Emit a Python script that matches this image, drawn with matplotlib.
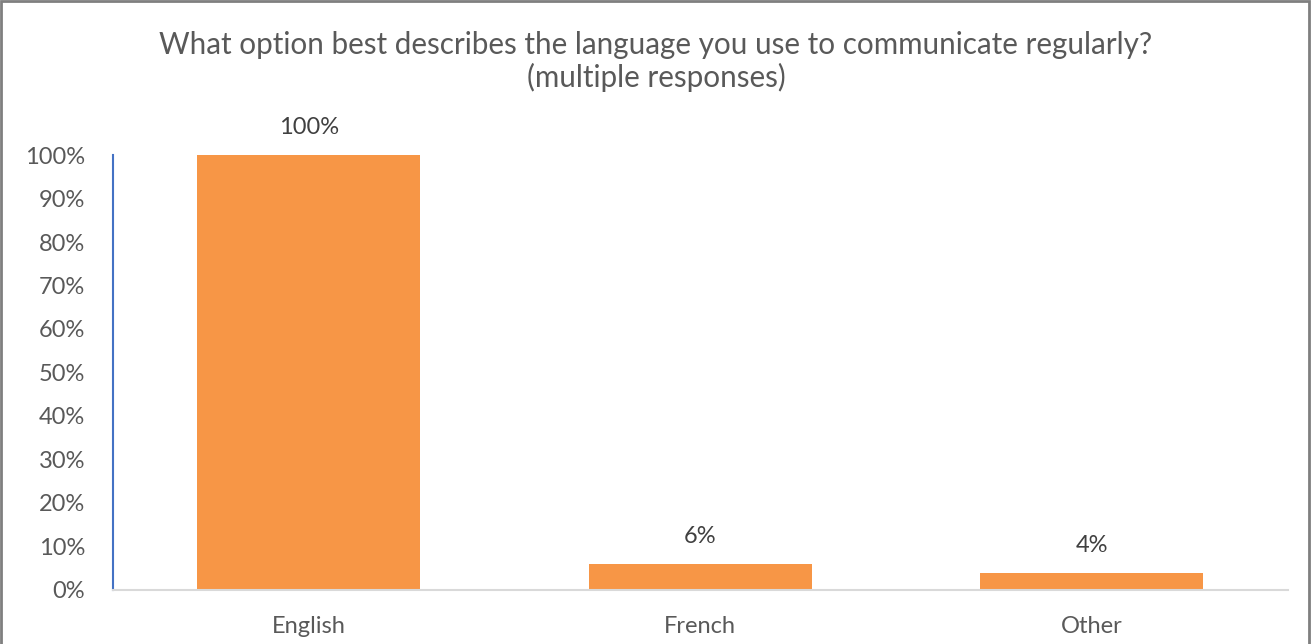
import matplotlib.pyplot as plt
from matplotlib.patches import Rectangle

# Survey responses (share of respondents)
languages = ["English", "French", "Other"]
shares = [1.00, 0.06, 0.04]
y_ticks = [0.0, 0.1, 0.2, 0.3, 0.4, 0.5, 0.6, 0.7, 0.8, 0.9, 1.0]

plt.rcParams['font.family'] = ['Lato', 'DejaVu Sans']
text_grey = '#595959'
bar_orange = '#F79646'

fig = plt.figure(figsize=(13.12, 6.44), dpi=100)
ax = fig.add_axes([0.0861, 0.0839, 0.8953, 0.6754])

x = range(len(languages))
ax.bar(x, shares, width=0.57, color=bar_orange)
for xi, v in zip(x, shares):
    ax.annotate(f"{v:.0%}", (xi, v), xytext=(0, 12), textcoords='offset points',
                ha='center', va='bottom', fontsize=17, color='#404040')

ax.set_xlim(-0.5, len(languages) - 0.5)
ax.set_ylim(0, 1.0)
ax.set_yticks(y_ticks)
ax.set_yticklabels([f"{t:.0%}" for t in y_ticks])
ax.set_xticks(list(x))
ax.set_xticklabels(languages)
ax.tick_params(axis='y', length=0, pad=20, labelsize=17, labelcolor=text_grey)
ax.tick_params(axis='x', length=0, pad=19, labelsize=17, labelcolor=text_grey)

for side in ['top', 'right']:
    ax.spines[side].set_visible(False)
ax.spines['left'].set_color('#4472C4')
ax.spines['left'].set_linewidth(1.5)
ax.spines['bottom'].set_color('#D9D9D9')
ax.spines['bottom'].set_linewidth(1.5)

fig.text(0.5, 0.905, "What option best describes the language you use to communicate regularly?\n(multiple responses)",
         ha='center', va='center', fontsize=21.3, color=text_grey, linespacing=1.15)

# chart frame
fig.patches.append(Rectangle((0.001, -0.01), 0.997, 1.009, transform=fig.transFigure,
                             fill=False, edgecolor='#7F7F7F', linewidth=2))

fig.savefig("out.png", dpi=100)
